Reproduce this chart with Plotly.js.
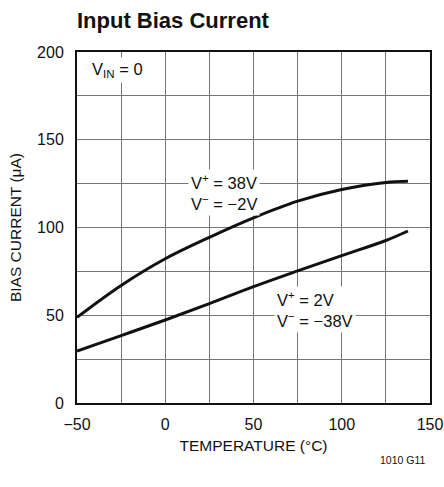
<!DOCTYPE html>
<html>
<head>
<meta charset="utf-8">
<script src="https://cdn.plot.ly/plotly-3.0.1.min.js"></script>
<style>html,body{margin:0;padding:0;background:#fff;}</style>
</head>
<body>
<div id="chart" style="width:444px;height:487px;"></div>
<script>
var temperature = [-50, -25, 0, 25, 50, 75, 100, 125, 137.5];
var currentHighVplus = [48.8, 67, 82.2, 94.4, 105.5, 115, 121.6, 125.7, 126.3];
var currentLowVplus = [29.6, 38.4, 47.3, 56.6, 66.3, 75.3, 84, 92.6, 98];
var xTickVals = [-50, 0, 50, 100, 150];
var yTickVals = [0, 50, 100, 150, 200];

var FONT = '"Liberation Sans", Arial, sans-serif';

var traces = [
  {x: temperature, y: currentHighVplus, mode: 'lines', line: {color: '#111', width: 3, shape: 'spline'}, hoverinfo: 'skip'},
  {x: temperature, y: currentLowVplus, mode: 'lines', line: {color: '#111', width: 3, shape: 'spline'}, hoverinfo: 'skip'}
];

var layout = {
  width: 444, height: 487,
  margin: {l: 77, r: 14, t: 52, b: 84, pad: 0},
  paper_bgcolor: '#fff', plot_bgcolor: '#fff',
  showlegend: false,
  font: {family: FONT, color: '#111', size: 16},
  title: {text: '<b>Input Bias Current</b>', font: {family: FONT, size: 22, color: '#111'},
          x: 77/444, xanchor: 'left', xref: 'container', y: 1 - 20/487, yanchor: 'middle', yref: 'container'},
  xaxis: {
    range: [-50, 150], tickvals: xTickVals, ticktext: xTickVals.map(function(v){return v < 0 ? '\u2212' + (-v) : String(v);}),
    showgrid: true, gridcolor: '#777', gridwidth: 1,
    minor: {dtick: 25, tick0: 0, showgrid: true, gridcolor: '#777', gridwidth: 1, ticks: ''},
    showline: true, linecolor: '#111', linewidth: 2, mirror: true,
    ticks: '', zeroline: false, fixedrange: true, ticklabelstandoff: 6,
    tickfont: {family: FONT, size: 16, color: '#111'},
    title: {text: 'TEMPERATURE (°C)', font: {family: FONT, size: 15.5, color: '#111'}, standoff: 8}
  },
  yaxis: {
    range: [0, 200], tickvals: yTickVals,
    showgrid: true, gridcolor: '#777', gridwidth: 1,
    minor: {dtick: 25, tick0: 0, showgrid: true, gridcolor: '#777', gridwidth: 1, ticks: ''},
    showline: true, linecolor: '#111', linewidth: 2, mirror: true,
    ticks: '', zeroline: false, fixedrange: true, ticklabelstandoff: 8,
    tickfont: {family: FONT, size: 16, color: '#111'},
    title: {text: 'BIAS CURRENT (μA)', font: {family: FONT, size: 15.5, color: '#111'}, standoff: 12}
  },
  annotations: [
    {x: -27, y: 190, xref: 'x', yref: 'y', text: 'V<sub>IN</sub> = 0', showarrow: false,
     font: {family: FONT, size: 16.5, color: '#111'}, bgcolor: '#fff', borderpad: 2},
    {x: 33, y: 120, xref: 'x', yref: 'y', text: 'V<sup>+</sup> = 38V<br>V<sup>\u2212</sup> = \u22122V', showarrow: false,
     font: {family: FONT, size: 16.5, color: '#111'}, bgcolor: '#fff', borderpad: 2, align: 'left'},
    {x: 85, y: 53, xref: 'x', yref: 'y', text: 'V<sup>+</sup> = 2V<br>V<sup>\u2212</sup> = \u221238V', showarrow: false,
     font: {family: FONT, size: 16.5, color: '#111'}, bgcolor: '#fff', borderpad: 2, align: 'left'},
    {x: (428 - 77) / 353, y: (403 - 460) / 351, xref: 'paper', yref: 'paper', xanchor: 'right', yanchor: 'middle',
     text: '1010 G11', showarrow: false, font: {family: FONT, size: 10.5, color: '#111'}}
  ]
};

Plotly.newPlot('chart', traces, layout, {displayModeBar: false, staticPlot: true});
</script>
</body>
</html>
